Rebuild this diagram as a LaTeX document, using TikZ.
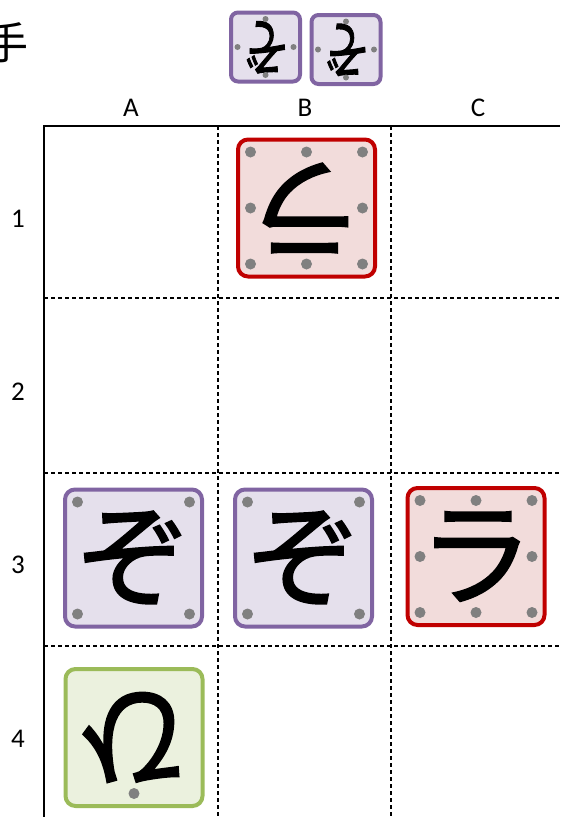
\documentclass[tikz,border=0pt]{standalone}
\usepackage{fontspec}
\setmainfont{Carlito}
\newfontfamily\jpfont{Noto Sans CJK JP}
\newfontfamily\jpheavy{Noto Sans CJK JP}[FakeBold=1.6]
\usetikzlibrary{calc,positioning}
\definecolor{ink}{RGB}{0,0,0}
\definecolor{zoofill}{RGB}{229,224,236}
\definecolor{zoostroke}{RGB}{128,100,162}
\definecolor{lionfill}{RGB}{242,220,219}
\definecolor{lionstroke}{RGB}{192,0,0}
\definecolor{chickfill}{RGB}{235,241,222}
\definecolor{chickstroke}{RGB}{155,187,89}
\definecolor{pipgray}{RGB}{128,128,128}
\def\CxA{44}
\def\CxB{218}
\def\CxC{391}
\def\RyA{126}
\def\RyB{298}
\def\RyC{473}
\def\RyD{646}
\tikzset{
  piece/.style={
    draw=#1stroke, fill=#1fill, line width=4pt, rounded corners=10pt,
    minimum size=137pt, inner sep=0pt,
    font=\jpheavy\fontsize{114}{114}\selectfont,
  },
  handpiece/.style={
    draw=#1stroke, fill=#1fill, line width=4pt, rounded corners=7pt,
    minimum size=69pt, inner sep=0pt,
    font=\jpheavy\fontsize{64}{64}\selectfont,
  },
  lbl/.style={font=\fontsize{27}{27}\selectfont, text=ink, inner sep=0pt},
  side/.style={font=\jpfont\fontsize{44}{44}\selectfont, text=ink, inner sep=0pt},
  edge/.style={line width=2pt, draw=ink},
  gridline/.style={line width=2pt, draw=ink, dash pattern=on 4pt off 3pt},
  pip/.style={fill=pipgray},
}

\begin{document}
\begin{tikzpicture}[x=1pt,y=-1pt]
  \useasboundingbox (0,0) rectangle (560,817);
  \clip (0,0) rectangle (560,817);

  % board
  \foreach \x in {\CxB,\CxC} \draw[gridline] (\x,\RyA) -- (\x,817);
  \foreach \y in {\RyB,\RyC,\RyD} \draw[gridline] (\CxA,\y) -- (560,\y);
  \draw[edge] (\CxA,817) -- (\CxA,\RyA) -- (560,\RyA);

  \node[lbl] (colA) at (131,108) {A};
  \node[lbl] (colB) at (305,108) {B};
  \node[lbl] (colC) at (478,108) {C};
  \node[lbl] (row1) at (18,219) {1};
  \node[lbl] (row2) at (18,392) {2};
  \node[lbl] (row3) at (18,565) {3};
  \node[lbl] (row4) at (18,739) {4};

  % hand
  \node[side] (gote) at (6,43) {手};
  \node[handpiece=zoo] (h1) at (265.5,47) {\scalebox{0.7}[1]{\rotatebox{180}{ぞ}}};
  \node[handpiece=zoo] (h2) at (346,49.5) {\scalebox{0.7}[1]{\rotatebox{180}{ぞ}}};
  \foreach \p in {h1,h2}
    \foreach \dx/\dy in {0/-28,0/28,-28/0,28/0}
      \fill[pip] ($(\p)+(\dx,\dy)$) circle (3);

  % pieces
  \node[piece=lion] (b1) at (306.5,208) {\rotatebox{180}{ラ}};
  \node[piece=zoo] (a3) at (133.5,558) {ぞ};
  \node[piece=zoo] (b3) at (303.5,558) {ぞ};
  \node[piece=lion] (c3) at (476,556.5) {ラ};
  \node[piece=chick] (a4) at (134,737.5) {\rotatebox{180}{ひ}};

  \foreach \p in {b1,c3}
    \foreach \dx/\dy in {-56/-56,0/-56,56/-56,-56/0,56/0,-56/56,0/56,56/56}
      \fill[pip] ($(\p)+(\dx,\dy)$) circle (5.5);
  \foreach \p in {a3,b3}
    \foreach \dx/\dy in {-56/-56,56/-56,-56/56,56/56}
      \fill[pip] ($(\p)+(\dx,\dy)$) circle (5.5);
  \fill[pip] ($(a4)+(0,56)$) circle (5.5);
\end{tikzpicture}
\end{document}
